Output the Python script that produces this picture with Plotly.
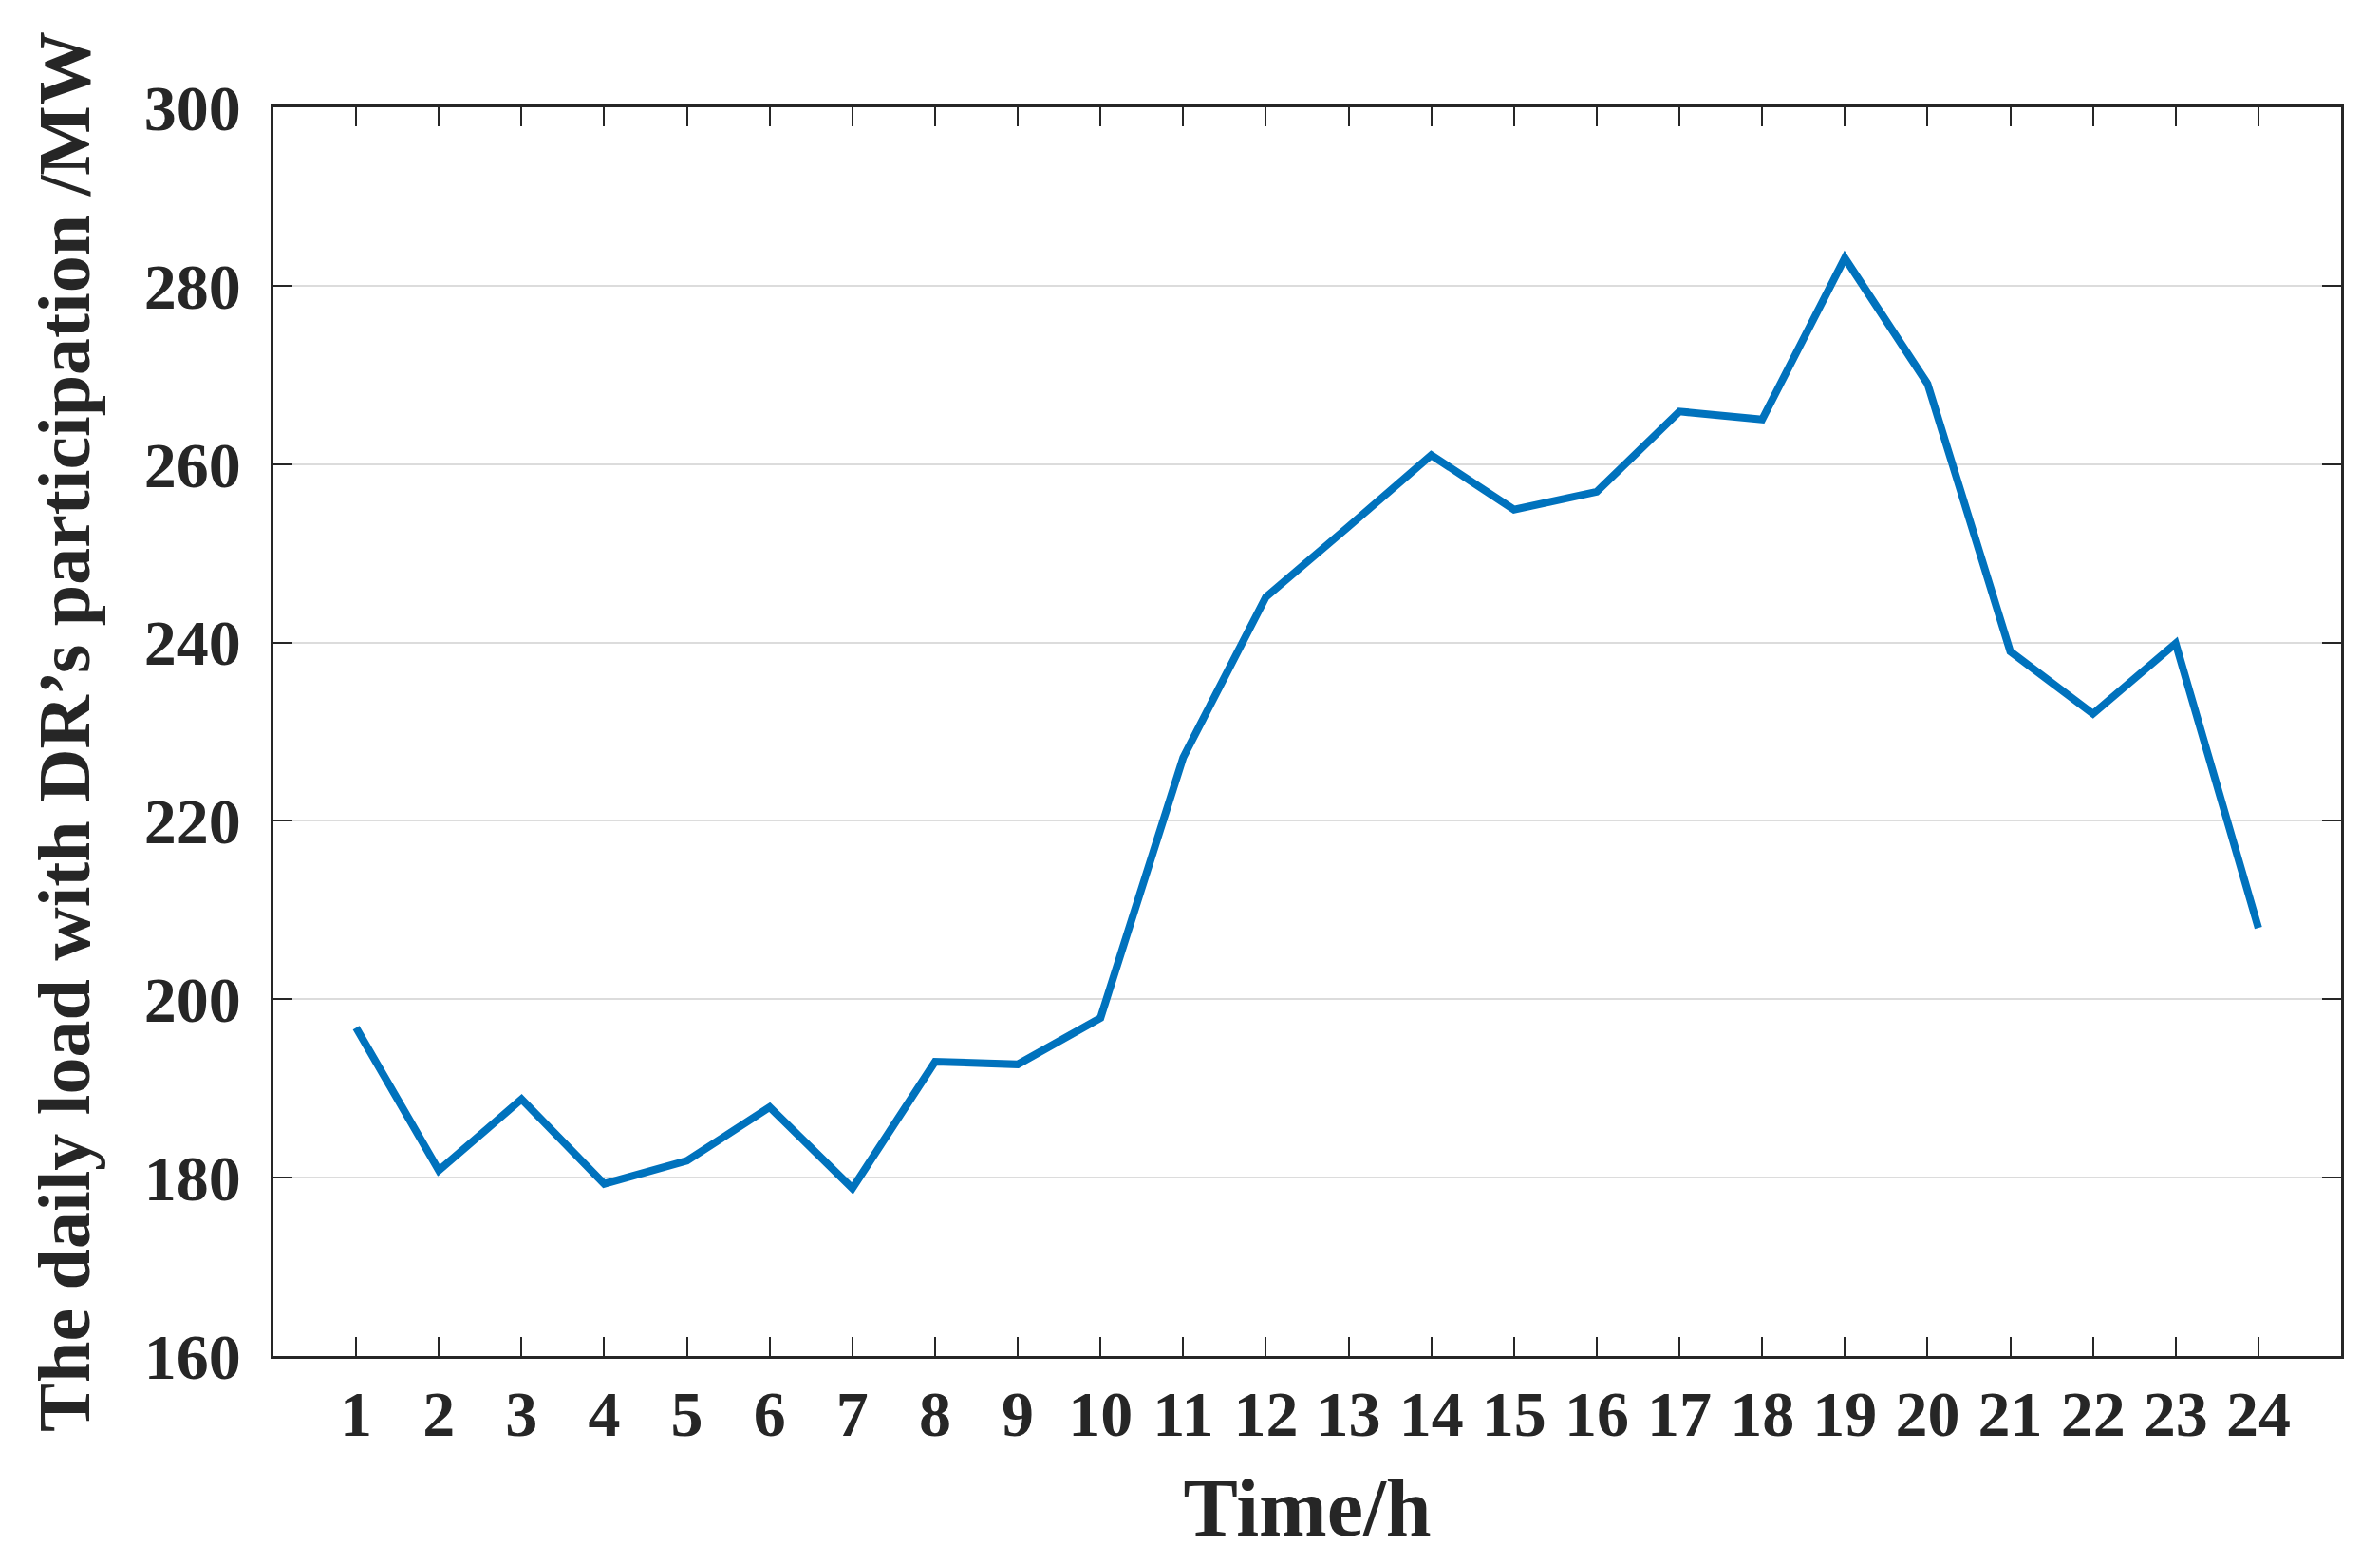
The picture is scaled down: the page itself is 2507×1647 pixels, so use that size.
import plotly.graph_objects as go

hours = list(range(1, 25))
load_mw = [196.8, 180.8, 188.8, 179.3, 181.9, 187.9, 178.8, 193.0, 192.7, 197.9,
           227.1, 245.1, 253.0, 261.0, 254.9, 256.9, 265.9, 265.0, 283.1, 269.0,
           239.0, 232.0, 239.9, 208.0]
x_ticks = list(range(1, 25))
y_ticks = [160, 180, 200, 220, 240, 260, 280, 300]

FONT = "Liberation Serif"
DARK = "#262626"

fig = go.Figure()
fig.add_trace(go.Scatter(x=hours, y=load_mw, mode="lines",
                         line=dict(color="#0072BD", width=8), showlegend=False))

fig.update_layout(
    width=2507, height=1647,
    margin=dict(l=280, r=49, t=105, b=227),
    paper_bgcolor="white", plot_bgcolor="white",
    font=dict(family=FONT, color=DARK),
)
fig.update_xaxes(
    range=[0, 25], tickvals=x_ticks, ticktext=[str(t) for t in x_ticks],
    ticks="inside", ticklen=20, tickwidth=2, tickcolor=DARK,
    showline=True, linecolor=DARK, linewidth=2.5, mirror="ticks",
    showgrid=False, zeroline=False, automargin=False,
    tickfont=dict(family=FONT, size=68, color=DARK, weight="bold"),
    ticklabelstandoff=0,
    title=dict(text="<b>Time/h</b>", font=dict(family=FONT, size=86, color=DARK), standoff=31),
)
fig.update_yaxes(
    range=[160, 300], tickvals=y_ticks, ticktext=[str(t) for t in y_ticks],
    ticks="inside", ticklen=20, tickwidth=2, tickcolor=DARK,
    showline=True, linecolor=DARK, linewidth=2.5, mirror="ticks",
    showgrid=True, gridcolor="#dcdcdc", gridwidth=1.5, zeroline=False, automargin=False,
    tickfont=dict(family=FONT, size=68, color=DARK, weight="bold"),
    ticklabelstandoff=18,
    title=dict(text="<b>The daily load with DR’s participation /MW</b>",
               font=dict(family=FONT, size=78, color=DARK), standoff=32),
)

fig.write_html("out.html")
